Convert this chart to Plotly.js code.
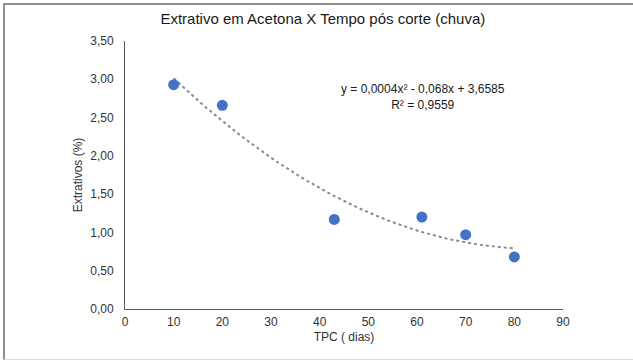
<!DOCTYPE html>
<html>
<head>
<meta charset="utf-8">
<script src="https://cdn.plot.ly/plotly-3.0.1.min.js"></script>
<style>
  html, body { margin: 0; padding: 0; background: #fff; }
  #wrap { position: relative; width: 633px; height: 361px; overflow: hidden; }
  #chart { position: absolute; left: 0; top: 0; width: 633px; height: 361px; }
  #frame { position: absolute; left: 3px; top: 3px; width: 640px; height: 354px;
           border-left: 2px solid #8c9090; border-top: 2px solid #8c9090;
           border-bottom: 1px solid #dcdcdc; pointer-events: none; }
</style>
</head>
<body>
<div id="wrap">
  <div id="chart"></div>
  <div id="frame"></div>
</div>
<script>
// Data
const tpcDias = [10, 20, 43, 61, 70, 80];
const extrativos = [2.93, 2.66, 1.17, 1.20, 0.97, 0.68];
const eqText = "y = 0,0004x² - 0,068x + 3,6585";
const r2Text = "R² = 0,9559";
const xTicks = [0, 10, 20, 30, 40, 50, 60, 70, 80, 90];
const yTicks = [0, 0.5, 1.0, 1.5, 2.0, 2.5, 3.0, 3.5];

// Quadratic least-squares trendline fitted from the data (as the spreadsheet does)
function polyfit2(xs, ys) {
  let n = xs.length, s = [0,0,0,0,0], t = [0,0,0];
  for (let i = 0; i < n; i++) {
    let x = xs[i], y = ys[i];
    for (let k = 0; k < 5; k++) s[k] += Math.pow(x, k);
    for (let k = 0; k < 3; k++) t[k] += y * Math.pow(x, k);
  }
  const M = [[s[0], s[1], s[2], t[0]], [s[1], s[2], s[3], t[1]], [s[2], s[3], s[4], t[2]]];
  for (let i = 0; i < 3; i++) {
    for (let j = i + 1; j < 3; j++) {
      const f = M[j][i] / M[i][i];
      for (let k = i; k < 4; k++) M[j][k] -= f * M[i][k];
    }
  }
  const c = [0, 0, 0];
  for (let i = 2; i >= 0; i--) {
    let v = M[i][3];
    for (let k = i + 1; k < 3; k++) v -= M[i][k] * c[k];
    c[i] = v / M[i][i];
  }
  return c;
}
const coef = polyfit2(tpcDias, extrativos);
const xMin = Math.min(...tpcDias), xMax = Math.max(...tpcDias);
const trendX = [], trendY = [];
for (let i = 0; i <= 70; i++) {
  const x = xMin + (xMax - xMin) * i / 70;
  trendX.push(x);
  trendY.push(coef[0] + coef[1] * x + coef[2] * x * x);
}

const font = "Liberation Sans, Arial, sans-serif";
const traces = [
  {
    x: trendX, y: trendY, mode: "lines", type: "scatter",
    line: { color: "#8a8a8a", width: 2, dash: "dot" },
    hoverinfo: "skip", showlegend: false
  },
  {
    x: tpcDias, y: extrativos, mode: "markers", type: "scatter",
    marker: { color: "#4472C4", size: 11 },
    showlegend: false
  }
];

const layout = {
  width: 633, height: 361,
  margin: { l: 125, r: 70, t: 41, b: 52 },
  paper_bgcolor: "#ffffff", plot_bgcolor: "#ffffff",
  separators: ",.",
  font: { family: font, size: 12, color: "#404040" },
  title: {
    text: "Extrativo em Acetona X Tempo pós corte (chuva)",
    font: { family: font, size: 15, color: "#1a1a1a" },
    x: 0.51, xanchor: "center", y: 0.947, yanchor: "middle"
  },
  xaxis: {
    range: [0, 90], tickvals: xTicks, ticktext: xTicks.map(String),
    showgrid: false, zeroline: false,
    showline: true, linecolor: "#595959", linewidth: 1,
    ticks: "", ticklabelstandoff: 2,
    tickfont: { family: font, size: 12, color: "#333333" },
    title: { text: "TPC ( dias)", font: { family: font, size: 12, color: "#333333" }, standoff: 4 }
  },
  yaxis: {
    range: [0, 3.5], tickvals: yTicks, tickformat: ".2f",
    showgrid: false, zeroline: false,
    showline: true, linecolor: "#595959", linewidth: 1,
    ticks: "", ticklabelstandoff: 8,
    tickfont: { family: font, size: 12, color: "#333333" },
    title: { text: "Extrativos (%)", font: { family: font, size: 12, color: "#333333" }, standoff: 5 }
  },
  annotations: [
    {
      x: 61.2, y: 2.77, xref: "x", yref: "y",
      text: eqText + "<br>" + r2Text, showarrow: false,
      align: "center", font: { family: font, size: 12, color: "#1a1a1a" }
    }
  ]
};

Plotly.newPlot("chart", traces, layout, { displayModeBar: false, staticPlot: true });
</script>
</body>
</html>
